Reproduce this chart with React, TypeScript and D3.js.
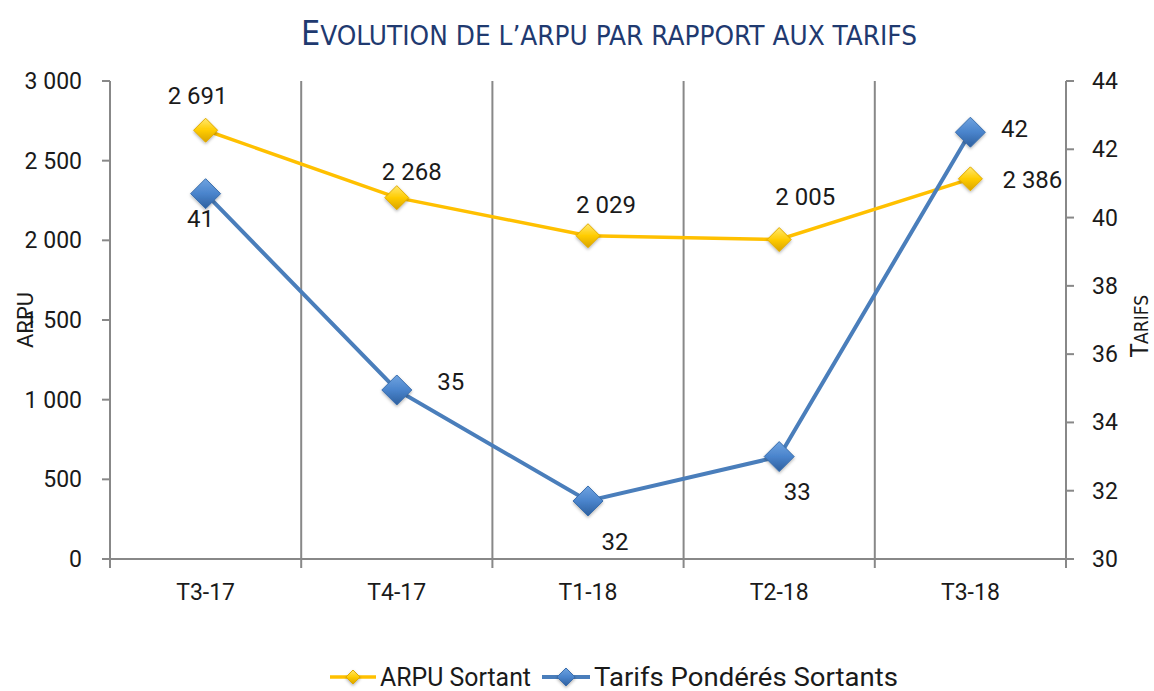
import React from 'react'
import { scaleBand, scaleLinear, line } from 'd3'

const categories = ['T3-17', 'T4-17', 'T1-18', 'T2-18', 'T3-18']
const arpu = [2691, 2268, 2029, 2005, 2386]
const arpuLabels = ['2 691', '2 268', '2 029', '2 005', '2 386']
const tarifs = [40.7, 34.95, 31.7, 33.0, 42.5]
const tarifLabels = ['41', '35', '32', '33', '42']
const arpuTicks = [0, 500, 1000, 1500, 2000, 2500, 3000]
const tarifTicks = [30, 32, 34, 36, 38, 40, 42, 44]

// label offsets from their points (Excel-like placement)
const arpuLabelOffset = [[-8, -26], [15, -18], [18, -23], [26, -35], [62, 9]]
const tarifLabelOffset = [[-5, 33], [54, 0], [27, 49], [18, 43], [44, 5]]

const W = 1154
const H = 691
const margin = { top: 81, right: 88, bottom: 132, left: 110 }

const fmt = (v: number) => (v >= 1000 ? `${Math.floor(v / 1000)} ${String(v % 1000).padStart(3, '0')}` : String(v))

const Diamond = ({ x, y, r, fill, stroke }: { x: number; y: number; r: number; fill: string; stroke: string }) => (
  <path
    d={`M${x},${y - r}L${x + r},${y}L${x},${y + r}L${x - r},${y}Z`}
    fill={fill}
    stroke={stroke}
    strokeWidth={1}
    filter="url(#shadow)"
  />
)

const App = () => {
  const innerW = W - margin.left - margin.right
  const innerH = H - margin.top - margin.bottom
  const x0 = margin.left
  const y0 = margin.top + innerH

  const xBand = scaleBand().domain(categories).range([x0, x0 + innerW]).padding(0)
  const xc = (c: string) => (xBand(c) || 0) + xBand.bandwidth() / 2
  const yL = scaleLinear().domain([0, 3000]).range([y0, margin.top])
  const yR = scaleLinear().domain([30, 44]).range([y0, margin.top])

  const arpuLine = line<number>().x((_, i) => xc(categories[i])).y((d) => yL(d))
  const tarifLine = line<number>().x((_, i) => xc(categories[i])).y((d) => yR(d))

  const axisColor = '#888888'
  const font = "Roboto, 'Liberation Sans', sans-serif"
  const condensed = "'Liberation Sans Narrow', 'DejaVu Sans Condensed', sans-serif"
  const yellow = '#FFC000'
  const blue = '#4A7EBB'
  const ink = '#1a1a1a'

  return (
    <svg width={W} height={H} style={{ position: 'fixed', left: 0, top: 0, background: '#fff' }}>
      <defs>
        <linearGradient id="gy" x1="0" y1="0" x2="0" y2="1">
          <stop offset="0" stopColor="#FFE870" />
          <stop offset="0.5" stopColor="#FFCC00" />
          <stop offset="1" stopColor="#D9A400" />
        </linearGradient>
        <linearGradient id="gb" x1="0" y1="0" x2="0" y2="1">
          <stop offset="0" stopColor="#6FA3E0" />
          <stop offset="0.5" stopColor="#4A84CC" />
          <stop offset="1" stopColor="#2D5F9E" />
        </linearGradient>
        <filter id="shadow" x="-50%" y="-50%" width="200%" height="200%">
          <feDropShadow dx="0" dy="1.5" stdDeviation="1.5" floodColor="#000" floodOpacity="0.3" />
        </filter>
      </defs>

      {/* title */}
      <text x={301} y={45} fill="#1F3A70" fontFamily={condensed} textLength={616} lengthAdjust="spacingAndGlyphs">
        <tspan fontSize={33}>E</tspan>
        <tspan fontSize={27}>VOLUTION DE L’ARPU PAR RAPPORT AUX TARIFS</tspan>
      </text>

      {/* vertical grid lines at category boundaries */}
      {categories.slice(1).map((c) => (
        <line key={c} x1={xBand(c)} x2={xBand(c)} y1={margin.top} y2={y0 + 9} stroke={axisColor} strokeWidth={2} />
      ))}
      <line x1={x0 + innerW} x2={x0 + innerW} y1={y0} y2={y0 + 9} stroke={axisColor} strokeWidth={2} />
      <line x1={x0} x2={x0} y1={y0} y2={y0 + 9} stroke={axisColor} strokeWidth={2} />

      {/* left axis */}
      <line x1={x0} x2={x0} y1={margin.top} y2={y0} stroke={axisColor} strokeWidth={2} />
      {arpuTicks.map((t) => (
        <g key={t}>
          <line x1={x0 - 8} x2={x0} y1={yL(t)} y2={yL(t)} stroke={axisColor} strokeWidth={2} />
          <text x={x0 - 28} y={yL(t) + 8} textAnchor="end" fontFamily={font} fontSize={23} fill={ink}>{fmt(t)}</text>
        </g>
      ))}
      <text transform={`translate(33,${320}) rotate(-90)`} textAnchor="middle"
        fontFamily={font} fontSize={22} fill={ink}>ARPU</text>

      {/* right axis */}
      <line x1={x0 + innerW} x2={x0 + innerW} y1={margin.top} y2={y0} stroke={axisColor} strokeWidth={2} />
      {tarifTicks.map((t) => (
        <g key={t}>
          <line x1={x0 + innerW} x2={x0 + innerW + 8} y1={yR(t)} y2={yR(t)} stroke={axisColor} strokeWidth={2} />
          <text x={x0 + innerW + 26} y={yR(t) + 8} textAnchor="start" fontFamily={font} fontSize={23} fill={ink}>{t}</text>
        </g>
      ))}
      <text transform={`translate(1148,326) rotate(-90)`} textAnchor="middle" fontFamily={condensed} fill={ink}>
        <tspan fontSize={24}>T</tspan>
        <tspan fontSize={19}>ARIFS</tspan>
      </text>

      {/* bottom axis */}
      <line x1={x0 - 8} x2={x0 + innerW + 8} y1={y0} y2={y0} stroke={axisColor} strokeWidth={2} />
      {categories.map((c) => (
        <text key={c} x={xc(c)} y={y0 + 41} textAnchor="middle" fontFamily={font} fontSize={23} fill={ink}>{c}</text>
      ))}

      {/* series */}
      <path d={arpuLine(arpu) || ''} fill="none" stroke={yellow} strokeWidth={3.5} />
      <path d={tarifLine(tarifs) || ''} fill="none" stroke={blue} strokeWidth={4} />
      {arpu.map((v, i) => (
        <Diamond key={'a' + i} x={xc(categories[i])} y={yL(v)} r={12} fill="url(#gy)" stroke="#E0AA00" />
      ))}
      {tarifs.map((v, i) => (
        <Diamond key={'t' + i} x={xc(categories[i])} y={yR(v)} r={15} fill="url(#gb)" stroke="#3A6EAD" />
      ))}

      {/* data labels */}
      {arpu.map((v, i) => (
        <text key={'al' + i} x={xc(categories[i]) + arpuLabelOffset[i][0]} y={yL(v) + arpuLabelOffset[i][1]}
          textAnchor="middle" fontFamily={font} fontSize={24} fill={ink}>{arpuLabels[i]}</text>
      ))}
      {tarifs.map((v, i) => (
        <text key={'tl' + i} x={xc(categories[i]) + tarifLabelOffset[i][0]} y={yR(v) + tarifLabelOffset[i][1]}
          textAnchor="middle" fontFamily={font} fontSize={24} fill={ink}>{tarifLabels[i]}</text>
      ))}

      {/* legend */}
      <g>
        <line x1={330} x2={376} y1={677} y2={677} stroke={yellow} strokeWidth={3.5} />
        <Diamond x={353} y={677} r={7} fill="url(#gy)" stroke="#E0AA00" />
        <text x={380} y={686} fontFamily={font} fontSize={25} fill={ink} textLength={151} lengthAdjust="spacingAndGlyphs">ARPU Sortant</text>
        <line x1={542} x2={590} y1={677} y2={677} stroke={blue} strokeWidth={4} />
        <Diamond x={566} y={677} r={9} fill="url(#gb)" stroke="#3A6EAD" />
        <text x={594} y={686} fontFamily={font} fontSize={25} fill={ink} textLength={304} lengthAdjust="spacingAndGlyphs">Tarifs Pondérés Sortants</text>
      </g>
    </svg>
  )
}

export default App
